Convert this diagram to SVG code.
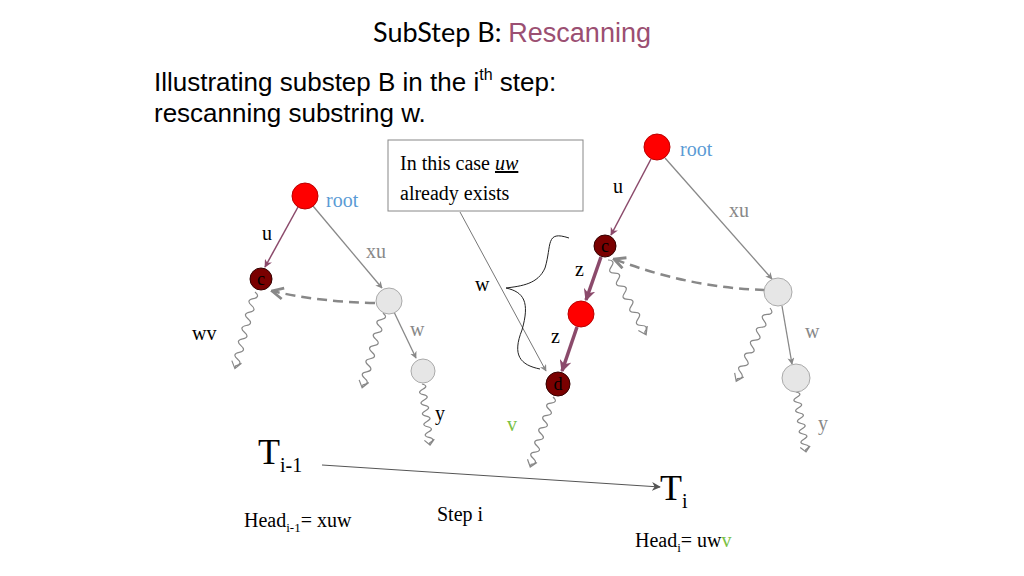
<svg xmlns="http://www.w3.org/2000/svg" width="1024" height="576" viewBox="0 0 1024 576">
<style>
.s{font-family:"Liberation Serif",serif;font-size:20px;fill:#000}
.g{fill:#888}
.b{fill:#5b9bd5}
.v{fill:#7ac143}
.n{font-size:18px}
.T{font-size:36px}
.red{fill:#ff0000;stroke:#b00;stroke-width:1}
.dk{fill:#7a0000;stroke:#300;stroke-width:1}
.gr{fill:#e6e6e6;stroke:#aaa;stroke-width:1}
.ge{stroke:#888;stroke-width:1.3;fill:none}
.pe{stroke:#8b4a6b;stroke-width:1.5;fill:none}
.pt{stroke:#8b4a6b;stroke-width:3.5;fill:none}
.da{stroke:#888;stroke-width:2.5;fill:none;stroke-dasharray:10 6}
</style>
<defs>
<marker id="ag" viewBox="0 0 10 10" refX="9" refY="5" markerWidth="7" markerHeight="7" orient="auto" markerUnits="userSpaceOnUse"><path d="M0 0 L10 5 L0 10 L3 5z" fill="#888"/></marker>
<marker id="ap" viewBox="0 0 10 10" refX="9" refY="5" markerWidth="8" markerHeight="8" orient="auto" markerUnits="userSpaceOnUse"><path d="M0 0 L10 5 L0 10 L3 5z" fill="#8b4a6b"/></marker>
<marker id="ab" viewBox="0 0 10 10" refX="9" refY="5" markerWidth="12" markerHeight="12" orient="auto" markerUnits="userSpaceOnUse"><path d="M0 0 L10 5 L0 10 L3 5z" fill="#8b4a6b"/></marker>
<marker id="ad" viewBox="0 0 10 10" refX="9" refY="5" markerWidth="14" markerHeight="14" orient="auto" markerUnits="userSpaceOnUse"><path d="M1 1 L9 5 L1 9" fill="none" stroke="#888" stroke-width="2"/></marker>
<marker id="ak" viewBox="0 0 10 10" refX="9" refY="5" markerWidth="9" markerHeight="9" orient="auto" markerUnits="userSpaceOnUse"><path d="M0 0 L10 5 L0 10 L3 5z" fill="#555"/></marker>
<g id="wave"><path d="M0 0 q3.5 -7 7 0 t7 0 t7 0 t7 0 t7 0 t7 0 t7 0 t7 0 t7 0 t7 0 t7 0 L80 0 M73 -5 L80 0 L73 5" fill="none" stroke="#888" stroke-width="1.2" vector-effect="non-scaling-stroke"/></g>
</defs>
<rect width="1024" height="576" fill="#fff"/>
<text x="512" y="42" text-anchor="middle" font-size="27"><tspan font-family="Lato,sans-serif">SubStep B: </tspan><tspan font-family="'Liberation Sans',sans-serif" fill="#9b4f72">Rescanning</tspan></text>
<text font-family="'Liberation Sans',sans-serif" font-size="26" x="154" y="91">Illustrating substep B in the i<tspan font-size="16" dy="-11">th</tspan><tspan dy="11"> step:</tspan></text>
<text font-family="'Liberation Sans',sans-serif" font-size="26" x="154" y="122">rescanning substring w.</text>
<g id="connectors">
<line x1="298" y1="207" x2="265" y2="267" class="pe" marker-end="url(#ap)"/>
<line x1="313" y1="206" x2="382" y2="288" class="ge" marker-end="url(#ag)"/>
<line x1="394" y1="312" x2="416" y2="358" class="ge" marker-end="url(#ag)"/>
<path d="M375 303 Q320 302 272 291" class="da" marker-end="url(#ad)"/>
<line x1="651" y1="159" x2="611" y2="235" class="pe" marker-end="url(#ap)"/>
<line x1="665" y1="158" x2="772" y2="279" class="ge" marker-end="url(#ag)"/>
<line x1="601" y1="257" x2="586" y2="300" class="pt" marker-end="url(#ab)"/>
<line x1="577" y1="327" x2="562" y2="371" class="pt" marker-end="url(#ab)"/>
<line x1="782" y1="306" x2="792" y2="364" class="ge" marker-end="url(#ag)"/>
<path d="M765 290 Q690 288 614 259" class="da" marker-end="url(#ad)"/>
<use href="#wave" transform="translate(255,292) rotate(104.7) scale(0.99,1)"/>
<use href="#wave" transform="translate(383,313) rotate(105.6) scale(0.97,1)"/>
<use href="#wave" transform="translate(422,384) rotate(82.5) scale(0.77,1)"/>
<use href="#wave" transform="translate(608,260) rotate(63) scale(1.05,1)"/>
<use href="#wave" transform="translate(770,308) rotate(114.7) scale(1.01,1)"/>
<use href="#wave" transform="translate(796,392) rotate(80.5) scale(0.76,1)"/>
<use href="#wave" transform="translate(553,397) rotate(108) scale(0.92,1)"/>
<line x1="460" y1="212" x2="546" y2="371" stroke="#777" stroke-width="1" marker-end="url(#ag)"/>
<path d="M569 238 C545 230 552 245 545 268 C538 284 522 286 506 288 C524 292 530 302 522 330 C512 355 520 365 540 369" fill="none" stroke="#222" stroke-width="1"/>
<line x1="322" y1="465" x2="660" y2="487" stroke="#555" stroke-width="1" marker-end="url(#ak)"/>
</g>
<g id="callout"><rect x="388" y="140" width="195" height="71" fill="#fff" stroke="#888"/>
<text class="s" x="400" y="170">In this case <tspan font-style="italic" text-decoration="underline">uw</tspan></text>
<text class="s" x="400" y="200">already exists</text></g>
<g id="left-root"><circle cx="305" cy="196" r="13" class="red"/><text class="s b" x="326" y="207">root</text></g>
<g id="left-c"><circle cx="261" cy="279" r="11" class="dk"/><text class="s n" x="261" y="285" text-anchor="middle">c</text></g>
<g id="left-g1"><circle cx="389" cy="301" r="13" class="gr"/></g>
<g id="left-g2"><circle cx="423" cy="371" r="12" class="gr"/></g>
<g id="right-root"><circle cx="657" cy="147" r="13" class="red"/><text class="s b" x="680" y="156">root</text></g>
<g id="right-c"><circle cx="605" cy="246" r="11" class="dk"/><text class="s n" x="605" y="252" text-anchor="middle">c</text></g>
<g id="right-mid"><circle cx="581" cy="314" r="13" class="red"/></g>
<g id="right-d"><circle cx="558" cy="384" r="12" class="dk"/><text class="s n" x="558" y="390" text-anchor="middle">d</text></g>
<g id="right-g1"><circle cx="778" cy="292" r="14" class="gr"/></g>
<g id="right-g2"><circle cx="796" cy="378" r="14" class="gr"/></g>
<g id="labels">
<text class="s" x="262" y="240">u</text>
<text class="s g" x="366" y="258">xu</text>
<text class="s" x="192" y="340">wv</text>
<text class="s g" x="410" y="336">w</text>
<text class="s" x="435" y="420">y</text>
<text class="s" x="613" y="193">u</text>
<text class="s g" x="729" y="217">xu</text>
<text class="s" x="575" y="276">z</text>
<text class="s" x="551" y="343">z</text>
<text class="s" x="475" y="291">w</text>
<text class="s g" x="805" y="338">w</text>
<text class="s g" x="818" y="430">y</text>
<text class="s v" x="507" y="431">v</text>
<text class="s T" x="258" y="464">T<tspan style="font-size:20px" dy="8">i-1</tspan></text>
<text class="s T" x="660" y="500">T<tspan style="font-size:20px" dy="8">i</tspan></text>
<text class="s" x="244" y="527">Head<tspan style="font-size:13px" dy="5">i-1</tspan><tspan dy="-5">= xuw</tspan></text>
<text class="s" x="437" y="521">Step i</text>
<text class="s" x="635" y="547">Head<tspan style="font-size:13px" dy="5">i</tspan><tspan dy="-5">= uw</tspan><tspan class="v">v</tspan></text>
</g>
</svg>
